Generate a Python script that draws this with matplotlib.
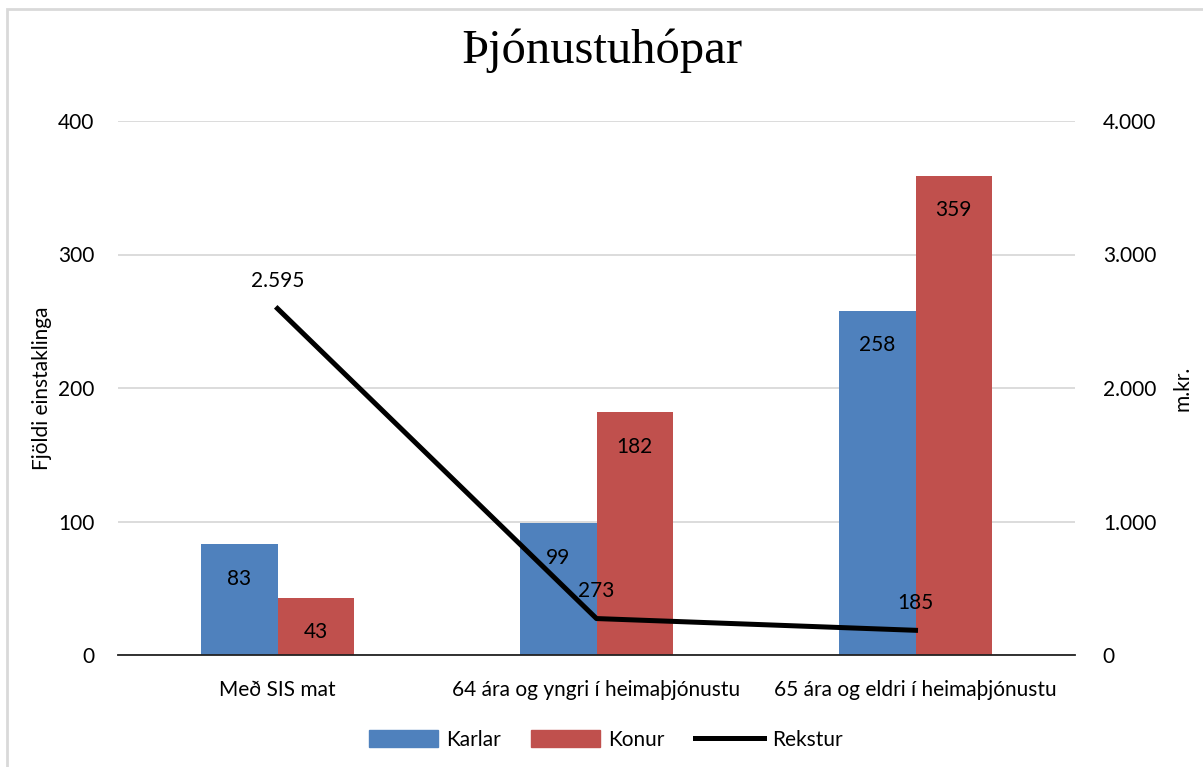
import numpy as np
import matplotlib
matplotlib.use("Agg")
import matplotlib.pyplot as plt
from matplotlib.lines import Line2D
from matplotlib.patches import Patch, Rectangle

# ---------------------------------------
# Data
# ---------------------------------------
categories = ["Með SIS mat", "64 ára og yngri í heimaþjónustu", "65 ára og eldri í heimaþjónustu"]
karlar = [83, 99, 258]
konur = [43, 182, 359]
rekstur = [2595, 273, 185]

left_ticks = [0, 100, 200, 300, 400]
right_ticks = [0, 1000, 2000, 3000, 4000]
right_ticklabels = ["0", "1.000", "2.000", "3.000", "4.000"]

BLUE = "#4F81BD"
RED = "#C0504D"
GRID = "#D9D9D9"
FONT = "Lato"
FS = 15

plt.rcParams["font.family"] = [FONT, "DejaVu Sans"]

# ---------------------------------------
# Figure
# ---------------------------------------
fig = plt.figure(figsize=(12.03, 7.67), dpi=100)
ax = fig.add_axes([118 / 1203, 1 - 655 / 767, (1075 - 118) / 1203, (655 - 121) / 767])
ax2 = ax.twinx()

# outer chart frame (cropped)
fig.patches.append(Rectangle((7 / 1203, -0.1), 1.2, (767 - 9) / 767 + 0.1,
                             transform=fig.transFigure, fill=False,
                             edgecolor="#D9D9D9", linewidth=2))

x = np.arange(len(categories))
w = 0.24

ax.set_axisbelow(True)
ax.yaxis.grid(True, color=GRID, linewidth=1.3)
b1 = ax.bar(x - w / 2, karlar, w, color=BLUE, zorder=2)
b2 = ax.bar(x + w / 2, konur, w, color=RED, zorder=2)

ax.set_xlim(-0.5, 2.5)
ax.set_ylim(0, 400)
ax.set_yticks(left_ticks)
ax.set_xticks(x)
ax.set_xticklabels(categories, fontsize=FS)
ax.tick_params(axis="y", length=0, labelsize=FS, pad=17)
ax.tick_params(axis="x", length=0, pad=18)
for s in ["top", "right", "left"]:
    ax.spines[s].set_visible(False)
ax.spines["bottom"].set_color("#222222")
ax.spines["bottom"].set_linewidth(1.3)
ax.set_ylabel("Fjöldi einstaklinga", fontsize=FS, labelpad=4)

# bar labels, inside near top
for bars, vals in [(b1, karlar), (b2, konur)]:
    for r, v in zip(bars, vals):
        ax.annotate(str(v), (r.get_x() + r.get_width() / 2, v),
                    xytext=(0, -25), textcoords="offset points",
                    ha="center", va="center", fontsize=FS, zorder=5)

# line on secondary axis
ax2.plot(x, rekstur, color="black", linewidth=3.6, zorder=3)
ax2.set_ylim(0, 4000)
ax2.set_yticks(right_ticks)
ax2.set_yticklabels(right_ticklabels)
ax2.tick_params(axis="y", length=0, labelsize=FS, pad=20)
for s in ["top", "right", "left", "bottom"]:
    ax2.spines[s].set_visible(False)
ax2.set_ylabel("m.kr.", fontsize=FS, labelpad=12)
for xi, v in zip(x, rekstur):
    lab = f"{v:,}".replace(",", ".")
    ax2.annotate(lab, (xi, v), xytext=(0, 20), textcoords="offset points",
                 ha="center", va="center", fontsize=FS, zorder=6)

# title
fig.text(0.5, 1 - 51 / 767, "Þjónustuhópar", ha="center", va="center",
         fontsize=35, family="Liberation Serif")

# legend
handles = [Patch(color=BLUE, label="Karlar"), Patch(color=RED, label="Konur"),
           Line2D([0], [0], color="black", linewidth=3.6, label="Rekstur")]
fig.legend(handles=handles, loc="center", bbox_to_anchor=(606 / 1203, 1 - 740 / 767),
           ncol=3, frameon=False, fontsize=FS, handlelength=3.3, handleheight=0.9,
           columnspacing=1.45, handletextpad=0.4)

fig.savefig("out.png", dpi=100)
